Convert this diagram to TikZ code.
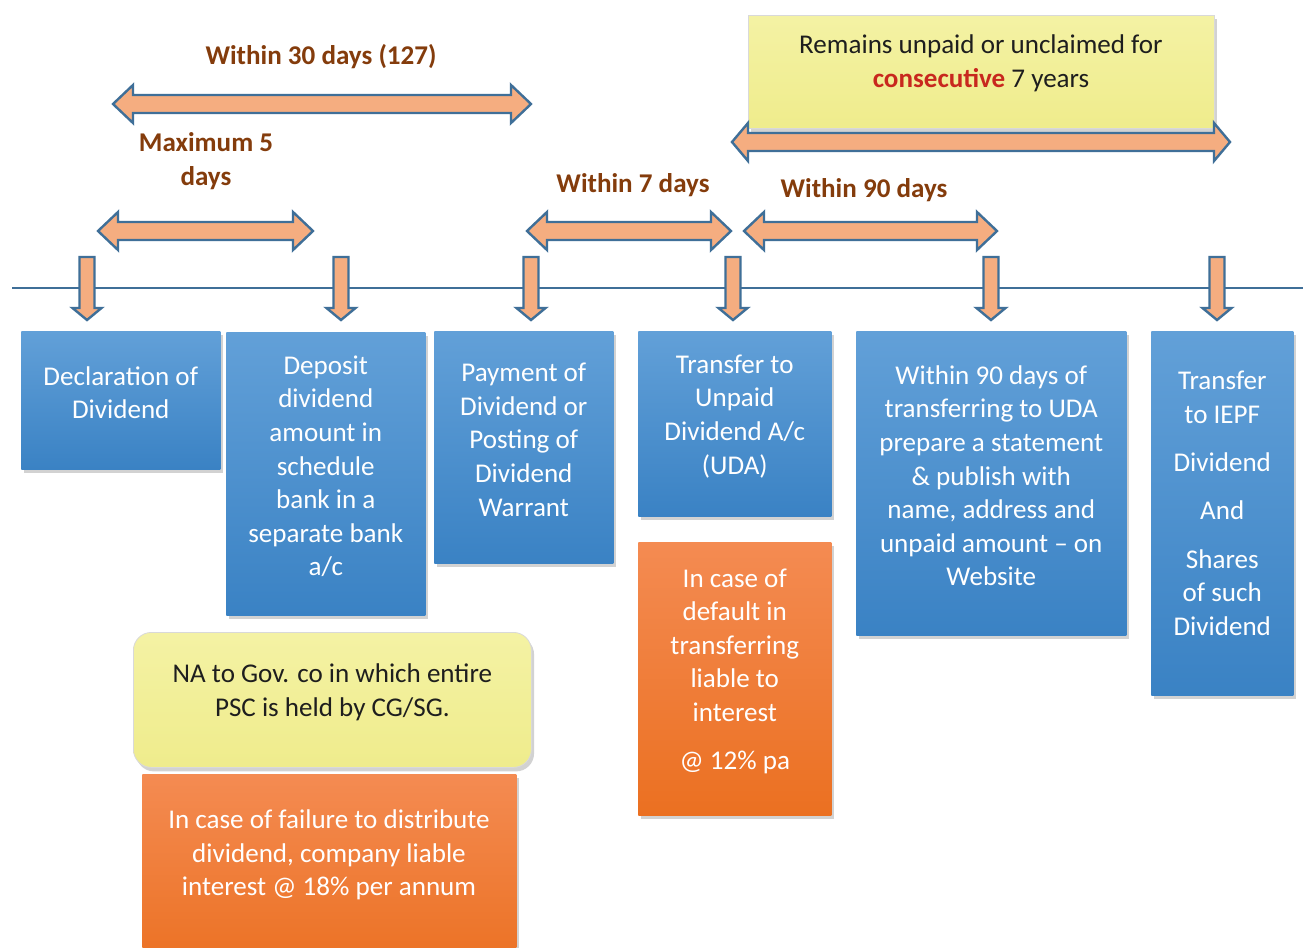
\documentclass[tikz,border=0pt]{standalone}
\usepackage{fontspec}
\setmainfont{Carlito}
\usetikzlibrary{shadows}

\definecolor{boxtop}{HTML}{62A0D8}
\definecolor{boxbot}{HTML}{3A82C4}
\definecolor{ortop}{HTML}{F48B52}
\definecolor{orbot}{HTML}{EB7021}
\definecolor{yelbase}{HTML}{EFEC8C}
\definecolor{yeltop}{HTML}{F4F2A4}
\definecolor{arrfill}{HTML}{F5AD80}
\definecolor{arrline}{HTML}{3F6F98}
\definecolor{lblbrown}{HTML}{843C0C}
\definecolor{redtxt}{HTML}{C8281E}
\definecolor{txtdark}{HTML}{1E1E1E}

\tikzset{
  x=0.75pt, y=-0.75pt,
  sz/.style 2 args={minimum width=#1*0.75pt, minimum height=#2*0.75pt},
  bodyfont/.style={font=\fontsize{20.3}{25.2}\selectfont},
  card/.style={anchor=north west, inner sep=0pt,
    drop shadow={opacity=0.35, shadow xshift=2pt, shadow yshift=-3pt}},
  bluecard/.style={card, top color=boxtop, bottom color=boxbot},
  orangecard/.style={card, top color=ortop, bottom color=orbot},
  yelcard/.style={card, top color=yeltop, bottom color=yelbase,
    draw=black!15, line width=0.6pt},
  lighttext/.style={bodyfont, align=center, text=white},
  darktext/.style={bodyfont, align=center, text=txtdark},
  period/.style={align=center, text=lblbrown, font=\bfseries\fontsize{20.3}{25.2}\selectfont},
  blockarrow/.style={fill=arrfill, draw=arrline, line width=1.8pt, line join=miter},
  timeline/.style={draw=arrline, line width=1.6pt},
}

% horizontal two-headed block arrow: [head length]{left x}{right x}{centre y}
\newcommand\twoway[4][20]{%
  \draw[blockarrow] (#2,#4) -- (#2+#1,#4-19) -- (#2+#1,#4-9) -- (#3-#1,#4-9)
    -- (#3-#1,#4-19) -- (#3,#4) -- (#3-#1,#4+19) -- (#3-#1,#4+9)
    -- (#2+#1,#4+9) -- (#2+#1,#4+19) -- cycle;}
% downward block arrow crossing the time line at x = #1
\newcommand\dnarrow[1]{%
  \draw[blockarrow] (#1-7.5,257) -- (#1+7.5,257) -- (#1+7.5,308) -- (#1+14.5,308)
    -- (#1,320) -- (#1-14.5,308) -- (#1-7.5,308) -- cycle;}
% filled card with its text set slightly above the middle:
% [card style]{name}{left}{top}{width}{height}{text style}{text}
\newcommand\card[8][bluecard]{%
  \node[#1, sz={#5}{#6}] (#2) at (#3,#4) {};
  \node[#7] (#2-text) at ([yshift=5.6pt]#2.center) {#8};}

\begin{document}
\begin{tikzpicture}
\useasboundingbox[fill=white] (0,0) rectangle (1303,947);

% time line and event markers
\coordinate (tl-start) at (12,288);
\coordinate (tl-end) at (1303,288);
\draw[timeline] (tl-start) -- (tl-end);
\foreach \xx in {87,341,531,733,991,1217} {\dnarrow{\xx}}

% period spans
\twoway{113}{531}{104}
\twoway{98}{313}{231}
\twoway{527}{731}{231}
\twoway{744}{997}{231}

\node[period] (l30) at (321,57) {Within 30 days (127)};
\node[period] (l5) at (206,161) {Maximum 5\\days};
\node[period] (l7) at (633,185) {Within 7 days};
\node[period] (l90) at (864,190) {Within 90 days};

% seven-year note
\node[yelcard, sz={466}{113}] (unpaid) at (748,15) {};
\node[darktext] (unpaidtxt) at (981,63)
  {Remains unpaid or unclaimed for\\{\bfseries\color{redtxt}consecutive} 7 years};
\twoway[16]{732}{1230}{142}

% steps
\card{decl}{21}{331}{199}{138}{lighttext}{Declaration of\\Dividend}
\card{deposit}{226}{332}{199}{283}{lighttext}
  {Deposit\\dividend\\amount in\\schedule\\bank in a\\separate bank\\a/c}
\card{pay}{434}{331}{179}{232}{lighttext}
  {Payment of\\Dividend or\\Posting of\\Dividend\\Warrant}
\card{uda}{638}{331}{193}{185}{lighttext}
  {Transfer to\\Unpaid\\Dividend A/c\\(UDA)}
\card{stmt}{856}{331}{270}{304}{lighttext}
  {Within 90 days of\\transferring to UDA\\prepare a statement\\\& publish with\\name, address and\\unpaid amount -- on\\Website}
\card{iepf}{1151}{331}{142}{364}{lighttext, yshift=1.8pt}
  {Transfer\\to IEPF\\[11pt]Dividend\\[11pt]And\\[11pt]Shares\\of such\\Dividend}

% consequences
\card[orangecard]{udaint}{638}{542}{193}{273}{lighttext}
  {In case of\\default in\\transferring\\liable to\\interest\\[11pt]@ 12\% pa}
\card[yelcard, rounded corners=13.5pt]{na}{133}{632}{398}{135}{darktext}
  {NA to Gov. co in which entire\\PSC is held by CG/SG.}
\node[orangecard, sz={374}{200}] (fail) at (142,774) {};
\node[lighttext] (fail-text) at (329,855)
  {In case of failure to distribute\\dividend, company liable\\interest @ 18\% per annum};
\end{tikzpicture}
\end{document}
